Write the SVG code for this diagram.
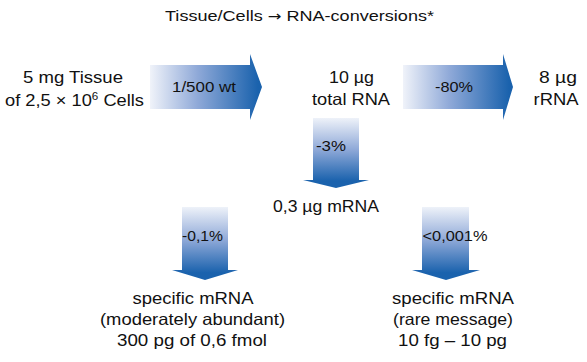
<svg xmlns="http://www.w3.org/2000/svg" width="587" height="362" viewBox="0 0 587 362">
<defs>
<linearGradient id="gh1" gradientUnits="userSpaceOnUse" x1="148" y1="0" x2="258" y2="0">
<stop offset="0" stop-color="#f4f6fb"/><stop offset="0.45" stop-color="#8fa9d8"/><stop offset="1" stop-color="#1a62ad"/>
</linearGradient>
<linearGradient id="gh2" gradientUnits="userSpaceOnUse" x1="401" y1="0" x2="509" y2="0">
<stop offset="0" stop-color="#f4f6fb"/><stop offset="0.45" stop-color="#8fa9d8"/><stop offset="1" stop-color="#1a62ad"/>
</linearGradient>
<linearGradient id="gv" x1="0" y1="0" x2="0" y2="1">
<stop offset="0" stop-color="#eef2f9"/><stop offset="0.45" stop-color="#8fa9d8"/><stop offset="0.9" stop-color="#1a62ad"/><stop offset="1" stop-color="#1a62ad"/>
</linearGradient>
</defs>
<style>
text{font-family:"Liberation Sans",Arial,Helvetica,sans-serif;fill:#111111;text-anchor:middle;font-size:16.5px}
.t{font-size:15.5px}
.l{font-size:15px}
.ar{font-family:"DejaVu Sans",sans-serif;font-size:14px}
</style>
<rect width="587" height="362" fill="#ffffff"/>
<g id="connectors">
<path d="M150,65 H250 V54 L262,87 L250,120 V109 H150 Z" fill="url(#gh1)"/>
<path d="M403,65 H503 V54 L513,87 L503,120 V109 H403 Z" fill="url(#gh2)"/>
<path d="M313,118 V180 H303 L336,188 L369,180 H359 V118 Z" fill="url(#gv)"/>
<path d="M182,207 V270 H172 L205,280 L238,270 H228 V207 Z" fill="url(#gv)"/>
<path d="M422,207 V270 H412 L446,280 L480,270 H469 V207 Z" fill="url(#gv)"/>
<text class="l" x="204" y="92" textLength="64" lengthAdjust="spacingAndGlyphs">1/500 wt</text>
<text class="l" x="454" y="92" textLength="38" lengthAdjust="spacingAndGlyphs">-80%</text>
<text class="l" x="331" y="151" textLength="30" lengthAdjust="spacingAndGlyphs">-3%</text>
<text class="l" x="202.5" y="241" textLength="41" lengthAdjust="spacingAndGlyphs">-0,1%</text>
<text class="l" x="455" y="241" textLength="65" lengthAdjust="spacingAndGlyphs">&lt;0,001%</text>
</g>
<g id="title"><text class="t" x="299.5" y="21" textLength="269" lengthAdjust="spacingAndGlyphs">Tissue/Cells <tspan class="ar">→</tspan> RNA-conversions*</text></g>
<g id="tissue">
<text x="73" y="83" textLength="100" lengthAdjust="spacingAndGlyphs">5 mg Tissue</text>
<text x="74.5" y="106" textLength="139" lengthAdjust="spacingAndGlyphs">of 2,5 × 10<tspan dy="-6" font-size="10.5">6</tspan><tspan dy="6"> Cells</tspan></text>
</g>
<g id="total-rna">
<text x="351.5" y="83" textLength="45" lengthAdjust="spacingAndGlyphs">10 µg</text>
<text x="351" y="105" textLength="78" lengthAdjust="spacingAndGlyphs">total RNA</text>
</g>
<g id="rrna">
<text x="558" y="83" textLength="38" lengthAdjust="spacingAndGlyphs">8 µg</text>
<text x="556" y="105" textLength="45" lengthAdjust="spacingAndGlyphs">rRNA</text>
</g>
<g id="mrna">
<text x="326" y="212" textLength="106" lengthAdjust="spacingAndGlyphs">0,3 µg mRNA</text>
</g>
<g id="specific-abundant">
<text x="193" y="304" textLength="121" lengthAdjust="spacingAndGlyphs">specific mRNA</text>
<text x="192.5" y="325" textLength="185" lengthAdjust="spacingAndGlyphs">(moderately abundant)</text>
<text x="192" y="346" textLength="150" lengthAdjust="spacingAndGlyphs">300 pg of 0,6 fmol</text>
</g>
<g id="specific-rare">
<text x="453" y="304" textLength="122" lengthAdjust="spacingAndGlyphs">specific mRNA</text>
<text x="453" y="325" textLength="120" lengthAdjust="spacingAndGlyphs">(rare message)</text>
<text x="452.5" y="346" textLength="109" lengthAdjust="spacingAndGlyphs">10 fg – 10 pg</text>
</g>
</svg>
